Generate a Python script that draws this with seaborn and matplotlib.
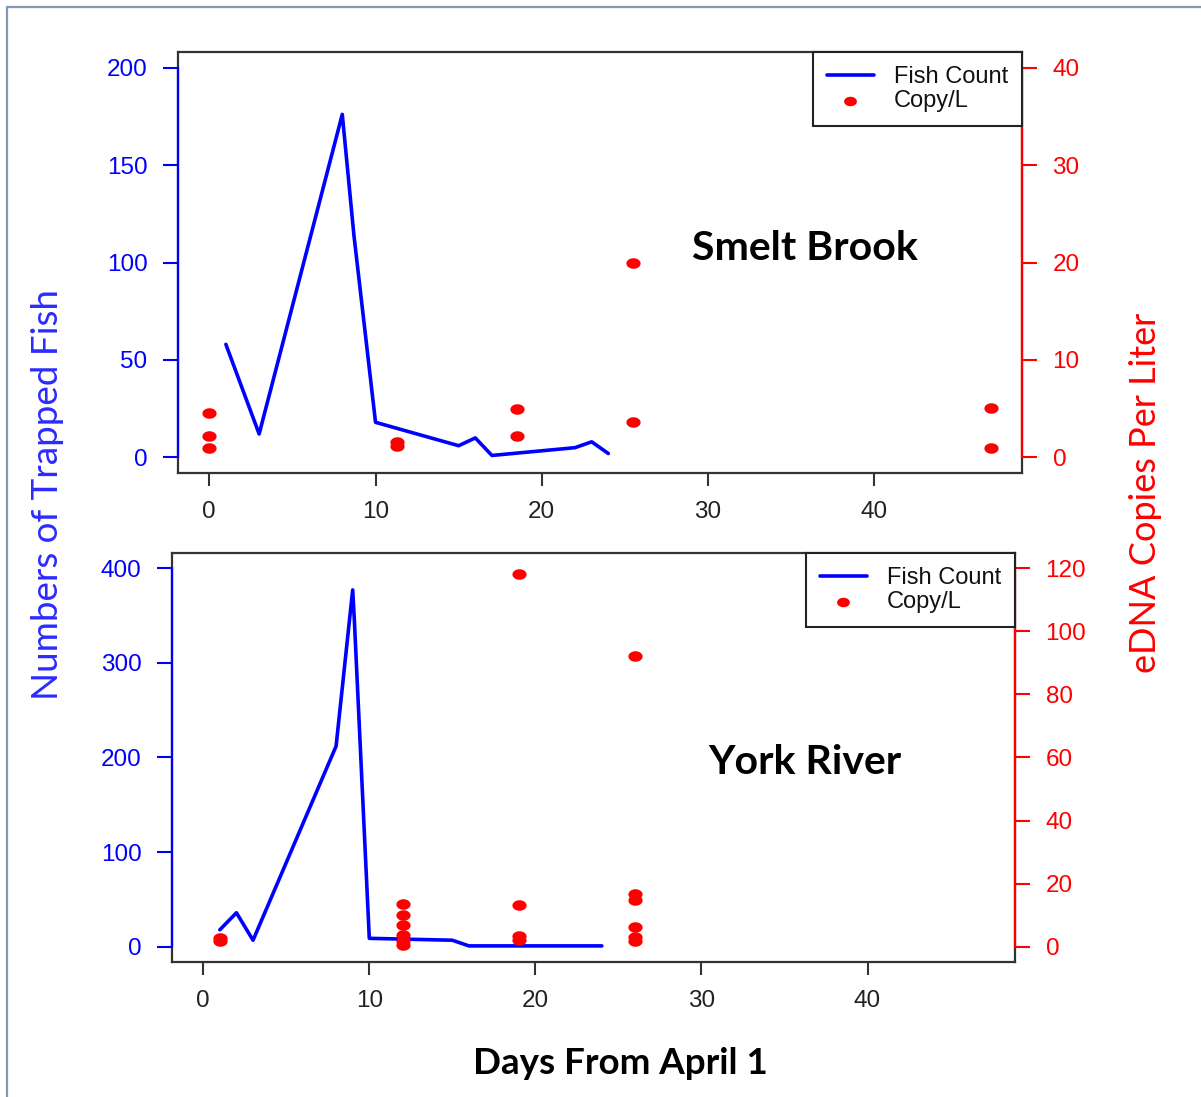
import numpy as np
import pandas as pd
import seaborn as sns
import matplotlib.pyplot as plt
from matplotlib.lines import Line2D

# Smelt Brook
smelt_fish_day = [1, 3, 8, 8.7, 10, 15, 16, 17, 22, 23, 24]
smelt_fish_count = [58, 12, 176, 114, 18, 6, 10, 1, 5, 8, 2]
smelt_edna_day = [0, 0, 0, 11.3, 11.3, 18.5, 18.5, 25.5, 25.5, 47, 47]
smelt_edna_copies = [4.6, 2.2, 1.0, 1.6, 1.2, 5.0, 2.2, 20.0, 3.6, 5.1, 1.0]

# York River
york_fish_day = [1, 2, 3, 8, 9, 9.1, 10, 15, 16, 24]
york_fish_count = [18, 36, 7, 212, 377, 345, 9, 7, 1, 1]
york_edna_day = [1, 1, 12, 12, 12, 12, 12, 12, 19, 19, 19, 19, 26, 26, 26, 26, 26, 26]
york_edna_copies = [2.8, 2.0, 13.7, 10.2, 7.0, 3.8, 2.0, 0.6,
                    118, 13.2, 3.3, 2.2, 92.2, 16.9, 14.7, 6.3, 3.1, 1.7]

x_ticks = [0, 10, 20, 30, 40]

sns.set_theme(style="ticks")
plt.rcParams['font.family'] = ['Liberation Sans', 'DejaVu Sans']

W, H = 1201, 1097
fig = plt.figure(figsize=(W / 100, H / 100), dpi=100)

# oval dot like the R pch=16 in the source
t = np.linspace(0, 2 * np.pi, 40)
oval = np.column_stack([1.35 * np.cos(t), np.sin(t)])


def panel(rect, fish_day, fish_count, edna_day, edna_copies, left_max, left_step, right_max, right_step):
    ax = fig.add_axes(rect)
    fish = pd.DataFrame({'day': fish_day, 'count': fish_count})
    edna = pd.DataFrame({'day': edna_day, 'copies': edna_copies})

    sns.lineplot(data=fish, x='day', y='count', ax=ax, color='blue', lw=2.6,
                 label='Fish Count', legend=False, sort=False, estimator=None)
    ax.set_xlim(-1.88, 48.88)
    ax.set_ylim(-0.04 * left_max, 1.04 * left_max)
    ax.set_xticks(x_ticks)
    ax.set_yticks(np.arange(0, left_max + 1, left_step))
    ax.set_xlabel('')
    ax.set_ylabel('')
    for s in ax.spines.values():
        s.set_visible(True)
        s.set_color('#333333')
        s.set_linewidth(1.6)
    ax.tick_params(axis='x', length=9, width=1.5, color='#333333', pad=11,
                   labelsize=17.5, labelcolor='#222222')
    ax.tick_params(axis='y', length=11, width=1.5, color='blue', pad=11,
                   labelsize=17.5, labelcolor='blue')

    ax2 = ax.twinx()
    sns.scatterplot(data=edna, x='day', y='copies', ax=ax2, color='red', marker=oval,
                    s=105, linewidth=0, label='Copy/L', legend=False)
    ax2.set_ylim(-0.04 * right_max, 1.04 * right_max)
    ax2.set_yticks(np.arange(0, right_max + 1, right_step))
    ax2.set_ylabel('')
    ax2.spines['top'].set_visible(False)
    ax2.spines['bottom'].set_visible(False)
    ax2.spines['left'].set_visible(True)
    ax2.spines['left'].set_color('blue')
    ax2.spines['left'].set_linewidth(1.6)
    ax2.spines['left'].set_bounds(0, right_max)
    ax2.spines['right'].set_visible(True)
    ax2.spines['right'].set_color('red')
    ax2.spines['right'].set_linewidth(1.6)
    ax2.spines['right'].set_bounds(0, right_max)
    ax2.tick_params(axis='y', length=11, width=1.5, color='red', pad=11,
                    labelsize=17.5, labelcolor='red')

    h1, l1 = ax.get_legend_handles_labels()
    h2, l2 = ax2.get_legend_handles_labels()
    leg = ax2.legend(h1 + h2, l1 + l2, loc='upper right', borderaxespad=0,
                     fancybox=False, framealpha=1, edgecolor='#222222',
                     fontsize=17, handlelength=1.95, handletextpad=0.85,
                     borderpad=0.6, labelspacing=0.08, markerscale=0.9)
    leg.get_frame().set_linewidth(1.5)
    for txt in leg.get_texts():
        txt.set_color('#111111')
    return ax, ax2


panel([178 / W, 1 - 473 / H, 844 / W, 421 / H],
      smelt_fish_day, smelt_fish_count, smelt_edna_day, smelt_edna_copies,
      200, 50, 40, 10)
panel([172 / W, 1 - 962 / H, 843 / W, 409 / H],
      york_fish_day, york_fish_count, york_edna_day, york_edna_copies,
      400, 100, 120, 20)

bold = ['Lato', 'DejaVu Sans']
fig.text(805 / W, 1 - 248 / H, 'Smelt Brook', ha='center', va='center',
         fontsize=29.5, fontweight='bold', family=bold, color='black')
fig.text(805 / W, 1 - 763 / H, 'York River', ha='center', va='center',
         fontsize=29.5, fontweight='bold', family=bold, color='black')
fig.text(620 / W, 1 - 1063 / H, 'Days From April 1', ha='center', va='center',
         fontsize=26.5, fontweight='bold', family=bold, color='black')
fig.text(48 / W, 1 - 495 / H, 'Numbers of Trapped Fish', ha='center', va='center',
         rotation=90, fontsize=26.5, color='#2b2bff', family=['Lato', 'DejaVu Sans'])
fig.text(1145 / W, 1 - 493 / H, 'eDNA Copies Per Liter', ha='center', va='center',
         rotation=90, fontsize=26, color='red', family=['Lato', 'DejaVu Sans'])

# thin frame on the left and top edges of the slide
fig.add_artist(Line2D([7 / W, 7 / W], [0, 1 - 7 / H], color='#7f9ab5', lw=1.6))
fig.add_artist(Line2D([7 / W, 1], [1 - 7 / H, 1 - 7 / H], color='#7f9ab5', lw=1.6))

fig.savefig('out.png', dpi=100)
